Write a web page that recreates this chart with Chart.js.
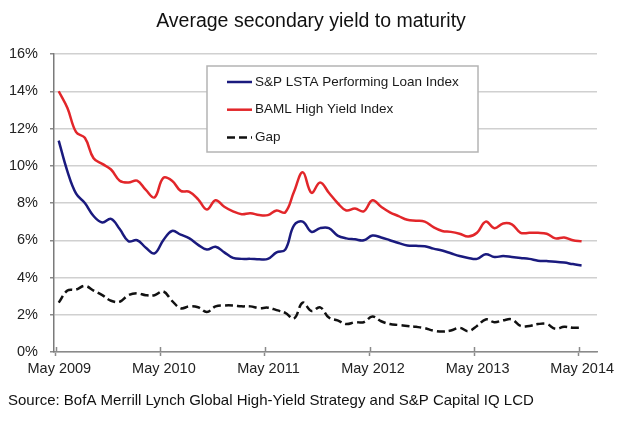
<!DOCTYPE html>
<html><head><meta charset="utf-8">
<script src="https://cdn.jsdelivr.net/npm/chart.js@4.4.1/dist/chart.umd.min.js"></script>
<style>html,body{margin:0;padding:0;background:#fff;} #wrap{width:620px;height:422px;position:relative;}</style>
</head><body><div id="wrap"><canvas id="c" width="620" height="422"></canvas></div>
<script>
const titleText = 'Average secondary yield to maturity';
const sourceText = 'Source: BofA Merrill Lynch Global High-Yield Strategy and S&P Capital IQ LCD';
const tickLabels = ['May 2009','May 2010','May 2011','May 2012','May 2013','May 2014'];
const tickMonths = [0, 12, 24, 36, 48, 60];
const seriesNames = ['S&P LSTA Performing Loan Index','BAML High Yield Index','Gap'];
// monthly observations, May 2009 .. May 2014 (61 months)
const loanIndex = [11.35, 9.7, 8.5, 8.0, 7.3, 6.95, 7.15, 6.6, 5.95, 6.0,
  5.6, 5.3, 6.0, 6.5, 6.3, 6.1, 5.75, 5.5, 5.65, 5.35,
  5.05, 5.0, 5.0, 4.98, 5.0, 5.35, 5.5, 6.8, 7.0, 6.45,
  6.65, 6.65, 6.25, 6.1, 6.05, 6.0, 6.25, 6.15, 6.0, 5.85,
  5.72, 5.7, 5.68, 5.55, 5.45, 5.3, 5.15, 5.05, 5.0, 5.25,
  5.1, 5.15, 5.1, 5.05, 5.0, 4.9, 4.88, 4.85, 4.8, 4.72, 4.65];
const bamlIndex = [14.0, 13.1, 11.8, 11.5, 10.4, 10.1, 9.8, 9.2, 9.1, 9.2,
  8.7, 8.3, 9.35, 9.2, 8.65, 8.6, 8.2, 7.65, 8.15, 7.8,
  7.55, 7.4, 7.45, 7.35, 7.35, 7.6, 7.5, 8.6, 9.65, 8.55,
  9.1, 8.55, 8.0, 7.6, 7.7, 7.55, 8.15, 7.8, 7.5, 7.3,
  7.1, 7.05, 7.0, 6.7, 6.5, 6.45, 6.35, 6.2, 6.4, 7.0,
  6.65, 6.9, 6.85, 6.4, 6.4, 6.4, 6.35, 6.1, 6.15, 6.0, 5.95];
const gapValues = [2.65, 3.3, 3.35, 3.55, 3.3, 3.05, 2.75, 2.7, 3.05, 3.15,
  3.05, 3.05, 3.25, 2.75, 2.35, 2.45, 2.4, 2.15, 2.45, 2.5,
  2.5, 2.45, 2.45, 2.35, 2.38, 2.25, 2.1, 1.8, 2.65, 2.2,
  2.4, 1.85, 1.7, 1.5, 1.6, 1.6, 1.9, 1.65, 1.5, 1.45,
  1.4, 1.35, 1.28, 1.15, 1.1, 1.15, 1.3, 1.12, 1.4, 1.75,
  1.6, 1.7, 1.75, 1.4, 1.4, 1.5, 1.5, 1.25, 1.35, 1.3, 1.3];
const monthOffset = 0.33; // observations sit a little after the month tick

const toPoints = arr => arr.map((v, i) => ({x: i + monthOffset, y: v}));
const FONT = '"Liberation Sans", Arial, sans-serif';

const textPlugin = {
  id: 'textPlugin',
  afterDraw(chart) {
    const ctx = chart.ctx;
    ctx.save();
    ctx.fillStyle = '#111';
    ctx.textBaseline = 'middle';
    ctx.textAlign = 'center';
    ctx.font = '19.5px ' + FONT;
    ctx.fillText(titleText, 311, 22);
    ctx.textAlign = 'left';
    ctx.font = '15px ' + FONT;
    ctx.fillText(sourceText, 8, 401);
    // x tick marks crossing up into the plot, as in the original
    const xs = chart.scales.x;
    ctx.strokeStyle = '#8a8a8a';
    ctx.lineWidth = 1.5;
    tickMonths.forEach(v => {
      const px = Math.round(xs.getPixelForValue(v)) + 0.5;
      ctx.beginPath();
      ctx.moveTo(px, chart.chartArea.bottom - 5);
      ctx.lineTo(px, chart.chartArea.bottom);
      ctx.stroke();
    });
    ctx.restore();
  }
};

const legendBox = {
  id: 'legendBox',
  afterDatasetsDraw(chart) {
    const {ctx, chartArea} = chart;
    const x0 = chartArea.left + 153, y0 = chartArea.top + 12, w = 271, h = 86;
    ctx.save();
    ctx.fillStyle = '#fff';
    ctx.fillRect(x0, y0, w, h);
    ctx.strokeStyle = '#b4b4b4';
    ctx.lineWidth = 1.5;
    ctx.strokeRect(x0, y0, w, h);
    chart.data.datasets.forEach((ds, k) => {
      const y = y0 + 16 + k * 27.7;
      ctx.beginPath();
      ctx.setLineDash(ds.borderDash || []);
      ctx.strokeStyle = ds.borderColor;
      ctx.lineWidth = ds.borderWidth;
      ctx.moveTo(x0 + 20, y);
      ctx.lineTo(x0 + 45, y);
      ctx.stroke();
      ctx.setLineDash([]);
      ctx.fillStyle = '#1a1a1a';
      ctx.font = '13.5px ' + FONT;
      ctx.textBaseline = 'middle';
      ctx.textAlign = 'left';
      ctx.fillText(ds.label, x0 + 48, y);
    });
    ctx.restore();
  }
};

new Chart(document.getElementById('c'), {
  type: 'line',
  data: {
    datasets: [
      {label: seriesNames[0], data: toPoints(loanIndex), borderColor: '#1a1a7e', borderWidth: 2.5, pointRadius: 0, tension: 0.4, fill: false},
      {label: seriesNames[1], data: toPoints(bamlIndex), borderColor: '#e2262a', borderWidth: 2.5, pointRadius: 0, tension: 0.4, fill: false},
      {label: seriesNames[2], data: toPoints(gapValues), borderColor: '#111111', borderWidth: 2.5, borderDash: [8, 4], pointRadius: 0, tension: 0.4, fill: false}
    ]
  },
  options: {
    responsive: false,
    animation: false,
    devicePixelRatio: 1,
    layout: {padding: {left: 0, right: 23, top: 54, bottom: 40}},
    plugins: {legend: {display: false}, title: {display: false}, tooltip: {enabled: false}},
    scales: {
      x: {
        type: 'linear',
        min: -0.21,
        max: 62.1,
        afterFit: s => { s.height = 30; },
        afterBuildTicks: s => { s.ticks = tickMonths.map(v => ({value: v})); },
        ticks: {
          autoSkip: false,
          maxRotation: 0,
          padding: 4,
          labelOffset: 3.5,
          color: '#222',
          font: {family: FONT, size: 14.5},
          callback: (v) => tickLabels[tickMonths.indexOf(v)]
        },
        grid: {display: true, drawOnChartArea: false, drawTicks: true, tickLength: 4, tickColor: '#8a8a8a', tickWidth: 1.5},
        border: {display: true, color: '#8a8a8a', width: 1.5}
      },
      y: {
        min: 0,
        max: 16,
        afterFit: s => { s.width = 54; },
        ticks: {
          stepSize: 2,
          padding: 12,
          color: '#222',
          font: {family: FONT, size: 14.5},
          callback: v => v + '%'
        },
        grid: {color: '#d0d0d0', lineWidth: 1.5, tickLength: 4, tickColor: '#8a8a8a'},
        border: {display: true, color: '#7a7a7a', width: 1.5}
      }
    }
  },
  plugins: [legendBox, textPlugin]
});
</script></body></html>
